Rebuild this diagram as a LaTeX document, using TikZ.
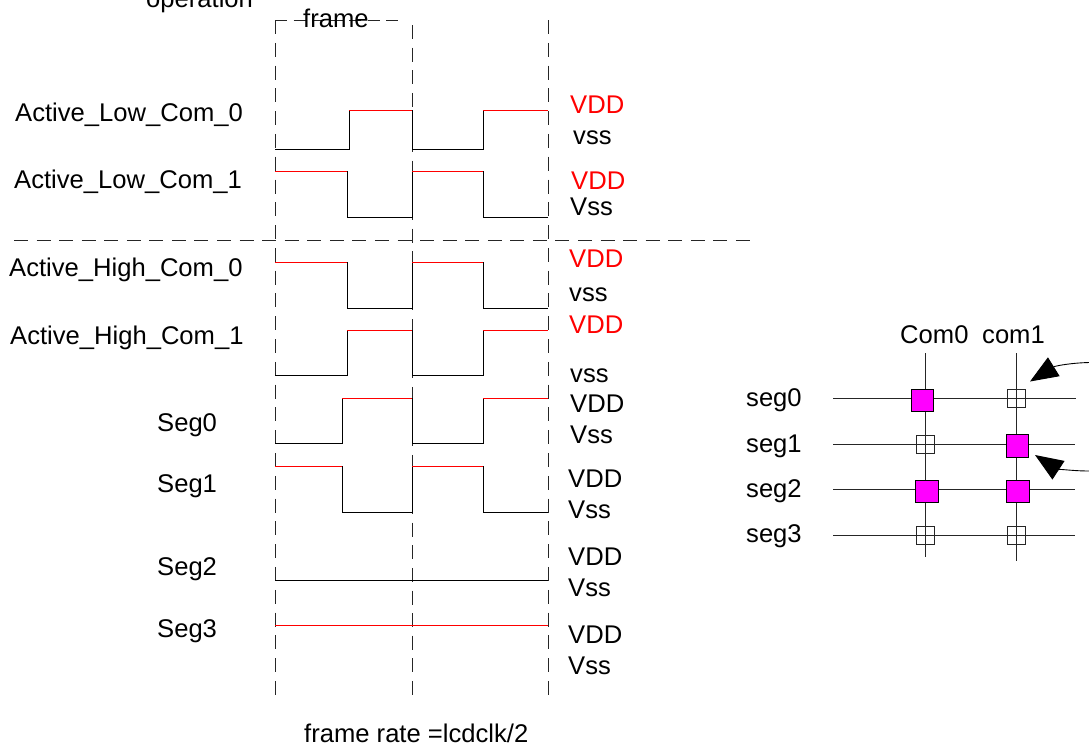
\documentclass[tikz,border=0pt]{standalone}
\usepackage{fontspec}
\setmainfont{Liberation Sans}
\usetikzlibrary{arrows.meta}
\definecolor{lcdmag}{rgb}{1,0,1}
\tikzset{
  lbl/.style={inner sep=0pt,font=\fontsize{25.6}{28}\selectfont,text=black},
  lbr/.style={lbl,text=red},
  wave/.style={draw=black,line width=0.8pt},
  hi/.style={draw=red,line width=0.8pt},
  guide/.style={draw=black!85,line width=0.9pt,dash pattern=on 14pt off 8.56pt},
  vguide/.style={draw=black!85,line width=0.9pt,dash pattern=on 14pt off 8.79pt},
  midguide/.style={draw=black!85,line width=0.9pt,dash pattern=on 14pt off 8.62pt},
  topguide/.style={draw=black!85,line width=0.9pt,dash pattern=on 12pt off 6.5pt},
  gridl/.style={draw=black!85,line width=1pt},
  fillsq/.style={draw=black,line width=1pt,fill=lcdmag,minimum size=22.5pt,inner sep=0pt},
  opensq/.style={draw=black!85,line width=0.9pt,minimum size=18pt,inner sep=0pt},
  pointer/.style={draw=black,line width=0.9pt,-{Triangle[length=28pt,width=22pt]}}
}
\begin{document}
\begin{tikzpicture}[x=1pt,y=-1pt]
\useasboundingbox (0,0) rectangle (1089,747);
% guides
\draw[vguide] (275,20) -- (275,695);
\draw[topguide] (275,20) -- (398,20);
\draw[midguide] (412,25) -- (412,695);
\draw[vguide] (548,20) -- (548,695);
\draw[guide] (14,240) -- (750,240);
% Active low com 0
\draw[wave] (275,149) -- (349,149) -- (349,110);
\draw[hi] (349,110) -- (412,110);
\draw[wave] (412,110) -- (412,149) -- (483,149) -- (483,110);
\draw[hi] (483,110) -- (548,110);
% Active low com 1
\draw[hi] (275,171) -- (347,171);
\draw[wave] (347,171) -- (347,217) -- (412,217) -- (412,171);
\draw[hi] (412,171) -- (483,171);
\draw[wave] (483,171) -- (483,217) -- (548,217);
% Active high com 0
\draw[hi] (275,262) -- (347,262);
\draw[wave] (347,262) -- (347,308) -- (412,308) -- (412,262);
\draw[hi] (412,262) -- (483,262);
\draw[wave] (483,262) -- (483,308) -- (548,308);
% Active high com 1
\draw[wave] (275,375) -- (347,375) -- (347,330);
\draw[hi] (347,330) -- (412,330);
\draw[wave] (412,330) -- (412,375) -- (483,375) -- (483,330);
\draw[hi] (483,330) -- (548,330);
% Seg0
\draw[wave] (275,443) -- (342,443) -- (342,398);
\draw[hi] (342,398) -- (412,398);
\draw[wave] (412,398) -- (412,443) -- (483,443) -- (483,398);
\draw[hi] (483,398) -- (548,398);
% Seg1
\draw[hi] (275,466) -- (342,466);
\draw[wave] (342,466) -- (342,512) -- (412,512) -- (412,466);
\draw[hi] (412,466) -- (483,466);
\draw[wave] (483,466) -- (483,512) -- (548,512);
% Seg2, Seg3
\draw[wave] (275,580) -- (548,580);
\draw[hi] (275,625) -- (548,625);
% left labels
\node[lbl,anchor=base west] (tOp) at (146,7) {operation};
\node[lbl,anchor=base west] (tFr) at (303,27) {frame};
\node[lbl,anchor=base west] (tA) at (15,121) {Active\_Low\_Com\_0};
\node[lbl,anchor=base west] (tB) at (14,188) {Active\_Low\_Com\_1};
\node[lbl,anchor=base west] (tC) at (9,276) {Active\_High\_Com\_0};
\node[lbl,anchor=base west] (tD) at (10,344) {Active\_High\_Com\_1};
\node[lbl,anchor=base west] (tE) at (157,431) {Seg0};
\node[lbl,anchor=base west] (tF) at (157,492) {Seg1};
\node[lbl,anchor=base west] (tG) at (157,575) {Seg2};
\node[lbl,anchor=base west] (tH) at (157,637) {Seg3};
% right labels
\node[lbr,anchor=base west] (r1) at (570,113) {VDD};
\node[lbl,anchor=base west] (r2) at (573,144) {vss};
\node[lbr,anchor=base west] (r3) at (571,189) {VDD};
\node[lbl,anchor=base west] (r4) at (570,215) {Vss};
\node[lbr,anchor=base west] (r5) at (569,267) {VDD};
\node[lbl,anchor=base west] (r6) at (569,301) {vss};
\node[lbr,anchor=base west] (r7) at (569,333) {VDD};
\node[lbl,anchor=base west] (r8) at (570,382) {vss};
\node[lbl,anchor=base west] (r9) at (570,412) {VDD};
\node[lbl,anchor=base west] (r10) at (570,443) {Vss};
\node[lbl,anchor=base west] (r11) at (568,487) {VDD};
\node[lbl,anchor=base west] (r12) at (568,518) {Vss};
\node[lbl,anchor=base west] (r13) at (568,565) {VDD};
\node[lbl,anchor=base west] (r14) at (568,596) {Vss};
\node[lbl,anchor=base west] (r15) at (568,643) {VDD};
\node[lbl,anchor=base west] (r16) at (568,674) {Vss};
\node[lbl,anchor=base west] (rate) at (304,742) {frame rate =lcdclk/2};
% matrix
\node[lbl,anchor=base west] (c0) at (900,343) {Com0};
\node[lbl,anchor=base west] (c1) at (982,343) {com1};
\node[lbl,anchor=base west] (s0) at (746,406) {seg0};
\node[lbl,anchor=base west] (s1) at (746,452) {seg1};
\node[lbl,anchor=base west] (s2) at (746,497) {seg2};
\node[lbl,anchor=base west] (s3) at (746,542) {seg3};
\draw[gridl] (925,353) -- (925,557);
\draw[gridl] (1016,353) -- (1016,561);
\draw[gridl] (833,398) -- (1076,398);
\draw[gridl] (833,444) -- (1075,444);
\draw[gridl] (833,489) -- (1075,489);
\draw[gridl] (833,535) -- (1075,535);
\node[fillsq] (a00) at (922.5,400.5) {};
\node[opensq] (a01) at (1016,398) {};
\node[opensq] (a10) at (925,444.5) {};
\node[fillsq] (a11) at (1017.5,446) {};
\node[fillsq] (a20) at (927,491.5) {};
\node[fillsq] (a21) at (1018,491.5) {};
\node[opensq] (a30) at (925,535) {};
\node[opensq] (a31) at (1016,535) {};
\coordinate (p1) at (1089,362.5);
\coordinate (t1) at (1030,381.5);
\coordinate (p2) at (1089,471);
\coordinate (t2) at (1035,455);
\draw[pointer] (p1) .. controls (1070,363) and (1055,366) .. (t1);
\draw[pointer] (p2) .. controls (1070,471) and (1055,468) .. (t2);
\end{tikzpicture}
\end{document}
